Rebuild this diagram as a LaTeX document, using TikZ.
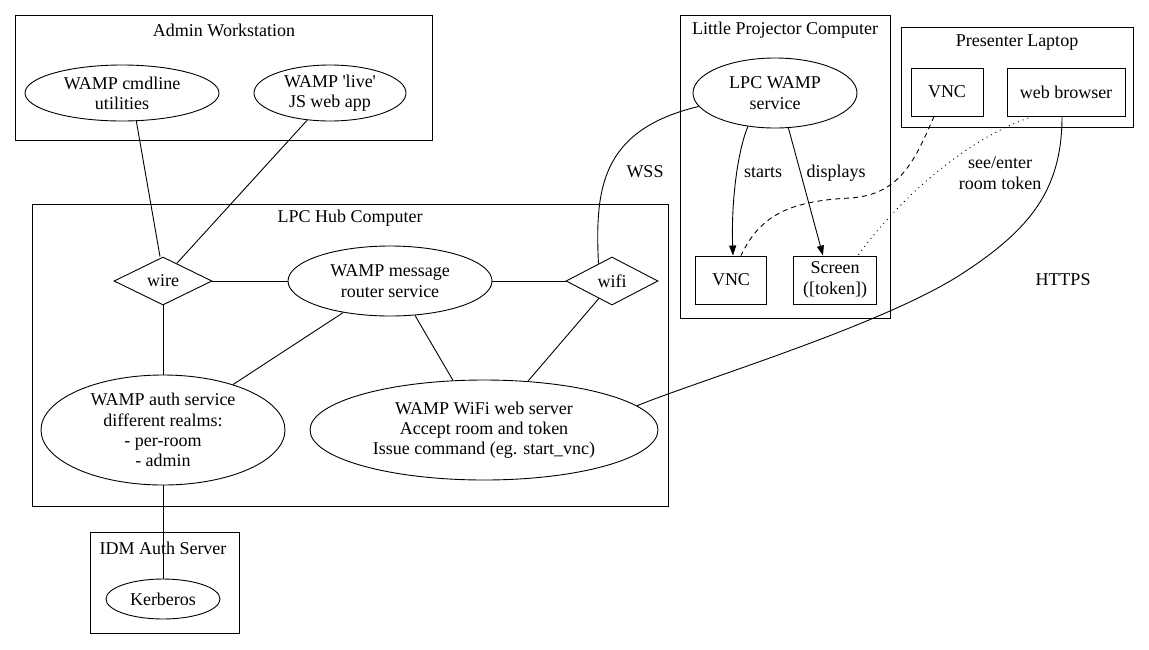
\documentclass[tikz,border=0pt]{standalone}
\usepackage{fontspec}
\setmainfont{Liberation Serif}[Ligatures=TeXOff]
\usetikzlibrary{shapes.geometric,arrows.meta}
\begin{document}
\begin{tikzpicture}[x=1pt,y=-1pt,line width=0.9pt,
  every node/.style={font=\fontsize{18}{20.3}\selectfont, inner sep=0pt, align=center},
  ell/.style={draw, ellipse},
  box/.style={draw, rectangle},
  dia/.style={draw, diamond},
  clus/.style={draw, line width=0.9pt},
  ttl/.style={},
  lbl/.style={},
  arr/.style={-{Triangle[length=10pt,width=7pt]}}]
\useasboundingbox (0,0) rectangle (1149,649);
% clusters
\draw[clus] (15,15) rectangle (432,140);
\node[ttl] (tadmin) at (224,30) {Admin Workstation};
\draw[clus] (32,204) rectangle (668,506);
\node[ttl] (thub) at (350,218) {LPC Hub Computer};
\draw[clus] (90,532) rectangle (239,633);
\node[ttl] (tidm) at (163,548) {IDM Auth Server};
\draw[clus] (680,15) rectangle (890,318);
\node[ttl] (tlpc) at (785,30) {Little Projector Computer};
\draw[clus] (901,27) rectangle (1133,127);
\node[ttl] (tpres) at (1017,43) {Presenter Laptop};
% nodes
\node[ell, minimum width=194pt, minimum height=56pt] (cmd) at (122,93) {WAMP cmdline\\utilities};
\node[ell, minimum width=152pt, minimum height=56pt] (live) at (330,93) {WAMP 'live'\\JS web app};
\node[dia, minimum width=98pt, minimum height=48pt] (wire) at (163,281) {wire};
\node[ell, minimum width=204pt, minimum height=70pt] (router) at (390,281) {WAMP message\\router service};
\node[dia, minimum width=92pt, minimum height=48pt] (wifi) at (612,281) {wifi};
\node[ell, minimum width=244pt, minimum height=110pt] (auth) at (163,430) {WAMP auth service\\different realms:\\- per-room\\- admin};
\node[ell, minimum width=348pt, minimum height=100pt] (web) at (484,430) {WAMP WiFi web server\\Accept room and token\\Issue command (eg. start\_vnc)};
\node[ell, minimum width=114pt, minimum height=40pt] (kerb) at (163,599) {Kerberos};
\node[ell, minimum width=164pt, minimum height=70pt] (lpcw) at (775,93) {LPC WAMP\\service};
\node[box, minimum width=71pt, minimum height=48pt] (lvnc) at (731,280) {VNC};
\node[box, minimum width=83pt, minimum height=48pt] (screen) at (835,280) {Screen\\([token])};
\node[box, minimum width=72pt, minimum height=48pt] (pvnc) at (947,92) {VNC};
\node[box, minimum width=118pt, minimum height=48pt] (wb) at (1066,92) {web browser};
% edges
\draw (cmd.-63) -- ([xshift=-3pt]wire.north);
\draw (live.230) -- (wire.52);
\draw (wire.east) -- (router.west);
\draw (router.east) -- (wifi.west);
\draw (wire.south) -- (auth.north);
\draw (router.214) -- (auth.33.5);
\draw (router.-54.5) -- (web.122);
\draw (wifi.233) -- (web.48);
\draw (auth.south) -- (kerb.north);
\draw[arr] (lpcw.231) .. controls (738,150) and (731,200) .. ([xshift=2pt]lvnc.north);
\draw[arr] (lpcw.-69) -- ([xshift=-12pt]screen.north);
\draw (lpcw.190) .. controls (600,130) and (595,190) .. (wifi.128);
\draw[dashed, dash pattern=on 5pt off 4pt] ([xshift=-13pt]pvnc.south) .. controls (915,160) and (900,195) .. (850,198) .. controls (790,201) and (760,215) .. ([xshift=10pt]lvnc.north);
\draw[dotted, dash pattern=on 1pt off 4pt] ([xshift=-33pt]wb.south) .. controls (960,140) and (890,210) .. ([xshift=23pt]screen.north);
\draw ([xshift=-4pt]wb.south) .. controls (1062,190) and (1030,230) .. (960,275) .. controls (880,326) and (700,380) .. (web.9.5);
% labels
\node[lbl] (lstarts) at (763,173) {starts};
\node[lbl] (ldisp) at (836,173) {displays};
\node[lbl] (lwss) at (645,172) {WSS};
\node[lbl] (lsee) at (1000,173) {see/enter\\room token};
\node[lbl] (lhttps) at (1063,280) {HTTPS};
\end{tikzpicture}
\end{document}
